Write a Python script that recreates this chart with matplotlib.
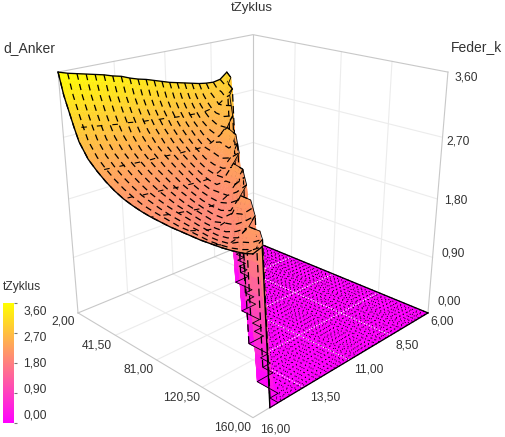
import numpy as np
import matplotlib
matplotlib.use("Agg")
import matplotlib.pyplot as plt
from matplotlib.cm import ScalarMappable
from matplotlib.colors import Normalize
from mpl_toolkits.mplot3d.art3d import Poly3DCollection

feder_k = [6.0, 6.4, 6.8, 7.2, 7.6, 8.0, 8.4, 8.8, 9.2, 9.6, 10.0, 10.4, 10.8,
           11.2, 11.6, 12.0, 12.4, 12.8, 13.2, 13.6, 14.0, 14.4, 14.8, 15.2, 15.6, 16.0]
d_anker = [2, 6, 10, 14, 18, 26, 34, 42, 50, 58, 66, 74, 82, 90, 98, 106, 114, 122,
           130, 138, 146, 154, 160]

# one row per d_anker value, one column per feder_k value
t_zyklus = [
    [0, 0, 0, 0, 3.09, 3.00, 2.98, 2.99, 3.01, 3.04, 3.07, 3.10, 3.13, 3.17, 3.21, 3.25, 3.28, 3.32, 3.37, 3.40, 3.44, 3.47, 3.50, 3.53, 3.56, 3.60],
    [0, 0, 0, 0, 3.02, 2.94, 2.89, 2.86, 2.85, 2.86, 2.88, 2.90, 2.92, 2.95, 2.98, 3.01, 3.04, 3.07, 3.10, 3.13, 3.16, 3.18, 3.21, 3.24, 3.27, 3.30],
    [0, 0, 0, 0, 0, 2.96, 2.86, 2.79, 2.75, 2.74, 2.75, 2.76, 2.78, 2.80, 2.82, 2.84, 2.87, 2.89, 2.91, 2.94, 2.96, 2.98, 3.01, 3.04, 3.07, 3.10],
    [0, 0, 0, 0, 0, 2.90, 2.79, 2.71, 2.67, 2.65, 2.65, 2.66, 2.67, 2.68, 2.70, 2.71, 2.73, 2.74, 2.76, 2.78, 2.79, 2.81, 2.83, 2.85, 2.87, 2.90],
    [0, 0, 0, 0, 0, 0, 2.84, 2.71, 2.62, 2.58, 2.56, 2.56, 2.57, 2.58, 2.59, 2.60, 2.61, 2.62, 2.63, 2.64, 2.65, 2.66, 2.67, 2.69, 2.70, 2.72],
    [0, 0, 0, 0, 0, 0, 0, 2.74, 2.60, 2.50, 2.45, 2.42, 2.42, 2.43, 2.43, 2.44, 2.44, 2.45, 2.46, 2.46, 2.47, 2.48, 2.49, 2.50, 2.51, 2.52],
    [0, 0, 0, 0, 0, 0, 0, 0, 2.65, 2.50, 2.39, 2.33, 2.30, 2.30, 2.31, 2.31, 2.32, 2.33, 2.34, 2.34, 2.35, 2.36, 2.37, 2.38, 2.39, 2.40],
    [0, 0, 0, 0, 0, 0, 0, 0, 0, 0, 2.57, 2.38, 2.26, 2.20, 2.20, 2.21, 2.22, 2.23, 2.23, 2.24, 2.25, 2.26, 2.27, 2.28, 2.29, 2.30],
    [0, 0, 0, 0, 0, 0, 0, 0, 0, 0, 2.50, 2.33, 2.21, 2.15, 2.12, 2.12, 2.13, 2.14, 2.15, 2.16, 2.17, 2.18, 2.19, 2.20, 2.21, 2.22],
    [0, 0, 0, 0, 0, 0, 0, 0, 0, 0, 0, 2.44, 2.26, 2.14, 2.08, 2.05, 2.05, 2.06, 2.07, 2.08, 2.10, 2.11, 2.12, 2.13, 2.15, 2.16],
    [0, 0, 0, 0, 0, 0, 0, 0, 0, 0, 0, 0, 2.38, 2.20, 2.08, 2.02, 2.00, 2.00, 2.01, 2.03, 2.04, 2.06, 2.07, 2.09, 2.10, 2.12],
    [0, 0, 0, 0, 0, 0, 0, 0, 0, 0, 0, 0, 0, 0, 2.34, 2.12, 2.00, 1.96, 1.96, 1.98, 1.99, 2.01, 2.03, 2.05, 2.07, 2.09],
    [0, 0, 0, 0, 0, 0, 0, 0, 0, 0, 0, 0, 0, 0, 2.30, 2.12, 2.00, 1.94, 1.93, 1.94, 1.96, 1.98, 2.00, 2.02, 2.05, 2.07],
    [0, 0, 0, 0, 0, 0, 0, 0, 0, 0, 0, 0, 0, 0, 0, 2.27, 2.10, 1.98, 1.92, 1.91, 1.93, 1.95, 1.98, 2.00, 2.03, 2.06],
    [0, 0, 0, 0, 0, 0, 0, 0, 0, 0, 0, 0, 0, 0, 0, 0, 2.25, 2.08, 1.97, 1.91, 1.90, 1.92, 1.95, 1.98, 2.01, 2.05],
    [0, 0, 0, 0, 0, 0, 0, 0, 0, 0, 0, 0, 0, 0, 0, 0, 0, 0, 2.23, 2.03, 1.94, 1.91, 1.93, 1.97, 2.01, 2.05],
    [0, 0, 0, 0, 0, 0, 0, 0, 0, 0, 0, 0, 0, 0, 0, 0, 0, 0, 2.22, 2.07, 1.97, 1.92, 1.92, 1.95, 2.00, 2.05],
    [0, 0, 0, 0, 0, 0, 0, 0, 0, 0, 0, 0, 0, 0, 0, 0, 0, 0, 0, 2.21, 2.07, 1.98, 1.94, 1.95, 1.99, 2.05],
    [0, 0, 0, 0, 0, 0, 0, 0, 0, 0, 0, 0, 0, 0, 0, 0, 0, 0, 0, 0, 2.20, 2.08, 2.00, 1.97, 2.00, 2.06],
    [0, 0, 0, 0, 0, 0, 0, 0, 0, 0, 0, 0, 0, 0, 0, 0, 0, 0, 0, 0, 0, 0, 2.20, 2.05, 2.02, 2.07],
    [0, 0, 0, 0, 0, 0, 0, 0, 0, 0, 0, 0, 0, 0, 0, 0, 0, 0, 0, 0, 0, 0, 2.20, 2.10, 2.06, 2.09],
    [0, 0, 0, 0, 0, 0, 0, 0, 0, 0, 0, 0, 0, 0, 0, 0, 0, 0, 0, 0, 0, 0, 0, 2.20, 2.12, 2.12],
    [0, 0, 0, 0, 0, 0, 0, 0, 0, 0, 0, 0, 0, 0, 0, 0, 0, 0, 0, 0, 0, 0, 0, 0, 2.20, 2.16],
]

d_ticks = [2, 41.5, 81, 120.5, 160]
k_ticks = [6, 8.5, 11, 13.5, 16]
z_ticks = [0, 0.9, 1.8, 2.7, 3.6]
d_labels = ["2,00", "41,50", "81,00", "120,50", "160,00"]
k_labels = ["6,00", "8,50", "11,00", "13,50", "16,00"]
z_labels = ["0,00", "0,90", "1,80", "2,70", "3,60"]

plt.rcParams["font.family"] = ["Liberation Sans", "DejaVu Sans"]
TEXT = "#333333"
EDGE = "#c8c8c8"
GRID = "#ececec"

W, H = 506, 437
fig = plt.figure(figsize=(W / 100, H / 100), dpi=100, facecolor="white")
ax = fig.add_axes([28.6 / W, 13.6 / H, 437 / W, 437 / H], projection="3d", computed_zorder=False)
ax.set_proj_type("persp", focal_length=0.3709)
ax.view_init(elev=21.5, azim=45)
ax.set_box_aspect((2.978, 2.978, 2.947), zoom=1.0)
ax.set_xlim(6, 16, view_margin=0)
ax.set_ylim(2, 160, view_margin=0)
ax.set_zlim(0, 3.6, view_margin=0)
ax.set_axis_off()

K = np.array(feder_k)
D = np.array(d_anker, dtype=float)
Z = np.array(t_zyklus, dtype=float)
norm = Normalize(0, 3.6)
cmap = plt.get_cmap("spring")


def line(ks, ds, zs, **kw):
    ax.plot(ks, ds, zs, **kw)


# back walls, floor and their grid lines
for k in k_ticks[1:-1]:
    line([k, k], [2, 2], [0, 3.6], color=GRID, lw=0.8, zorder=0)
    line([k, k], [2, 160], [0, 0], color=GRID, lw=0.8, zorder=0)
for d in d_ticks[1:-1]:
    line([6, 6], [d, d], [0, 3.6], color=GRID, lw=0.8, zorder=0)
    line([6, 16], [d, d], [0, 0], color=GRID, lw=0.8, zorder=0)
for z in z_ticks[1:-1]:
    line([16, 6, 6], [2, 2, 160], [z, z, z], color=GRID, lw=0.8, zorder=0)
line([16, 6, 6], [2, 2, 160], [3.6, 3.6, 3.6], color=EDGE, lw=0.8, zorder=0)
line([16, 6, 6, 16, 16], [2, 2, 160, 160, 2], [0, 0, 0, 0, 0], color=EDGE, lw=0.8, zorder=0)
line([16, 16], [2, 2], [0, 3.6], color=EDGE, lw=0.8, zorder=0)
line([6, 6], [2, 2], [0, 3.6], color=EDGE, lw=0.8, zorder=0)
line([6, 6], [160, 160], [0, 3.6], color=EDGE, lw=0.8, zorder=0)


def cell_polys(cells, n):
    # split each grid cell so the colour follows the height inside it
    polys, vals = [], []
    s = np.linspace(0, 1, n + 1)
    for i, j in cells:
        zc = Z[i:i + 2, j:j + 2]
        for a0, a1 in zip(s[:-1], s[1:]):
            for b0, b1 in zip(s[:-1], s[1:]):
                pts = []
                for a, b in [(a0, b0), (a0, b1), (a1, b1), (a1, b0)]:
                    zv = ((1 - a) * (1 - b) * zc[0, 0] + (1 - a) * b * zc[0, 1]
                          + a * (1 - b) * zc[1, 0] + a * b * zc[1, 1])
                    pts.append((K[j] + b * (K[j + 1] - K[j]), D[i] + a * (D[i + 1] - D[i]), zv))
                polys.append(pts)
                vals.append(np.mean([p[2] for p in pts]))
    return polys, vals


def add_cells(cells, n, zorder):
    polys, vals = cell_polys(cells, n)
    cols = cmap(norm(vals))
    ax.add_collection3d(Poly3DCollection(polys, facecolors=cols, edgecolors=cols,
                                         linewidths=0.3, zorder=zorder))


floor_cells, wall_cells, sheet_cells = [], [], []
for i in range(len(D) - 1):
    for j in range(len(K) - 1):
        zc = Z[i:i + 2, j:j + 2]
        if zc.max() == 0:
            floor_cells.append((i, j))
        elif zc.min() == 0:
            wall_cells.append((i, j))
        else:
            sheet_cells.append((i, j))

first_up = (Z > 0).argmax(axis=1)
base_k = K[first_up - 1]

# floor: flat part of the surface with a dotted mesh and the grid showing through
add_cells(floor_cells, 1, 2)
mesh_k = np.sort(np.r_[K[:-1], (K[:-1] + K[1:]) / 2])
mesh_d = np.sort(np.r_[D, (D[:-1] + D[1:]) / 2])
for k in mesh_k:
    if k <= base_k[-1]:
        line([k, k], [np.interp(k, base_k, D), 160], [0, 0], color="black", lw=0.7, ls=(0, (1, 3.4)), zorder=3)
for d in mesh_d:
    line([6, np.interp(d, D, base_k)], [d, d], [0, 0], color="black", lw=0.7, ls=(0, (1, 3.4)), zorder=3)
for d in d_ticks[1:-1]:
    line([6, np.interp(d, D, base_k)], [d, d], [0, 0], color="white", lw=0.8, ls=(0, (1, 1.5)), zorder=3.5)
for k in k_ticks[1:-1]:
    line([k, k], [np.interp(k, base_k, D), 160], [0, 0], color="white", lw=0.8, ls=(0, (1, 1.5)), zorder=3.5)
line([6, 6], [2, 160], [0, 0], color="black", lw=0.9, zorder=3.6)
line([6, base_k[-1]], [160, 160], [0, 0], color="black", lw=0.9, zorder=3.6)

# wall where the surface drops to the floor
add_cells(wall_cells, 10, 4)
for i, d in list(enumerate(D))[::3]:
    j = first_up[i]
    line([K[j - 1], K[j]], [d, d], [0, Z[i, j]], color="black", lw=0.9, ls=(0, (6, 3.5)), zorder=5)
stair_k, stair_d = [], []
for i in range(len(D) - 1):
    stair_k += [base_k[i], base_k[i]]
    stair_d += [D[i], D[i + 1]]
stair_k.append(base_k[-1])
stair_d.append(D[-1])
line(stair_k, stair_d, np.zeros(len(stair_k)), color="black", lw=0.6, zorder=5)
line([base_k[-1], K[first_up[-1]]], [160, 160], [0, Z[-1, first_up[-1]]], color="black", lw=1.0, zorder=5)

# upper sheet with its dashed mesh and solid outline
add_cells(sheet_cells, 3, 6)
for j, k in enumerate(K):
    rows = np.where(Z[:, j] > 0)[0]
    if len(rows) > 1:
        line([k] * len(rows), D[rows], Z[rows, j], color="black", lw=0.9, ls=(0, (5, 3.5)), zorder=7)
for i, d in list(enumerate(D))[3:-1:3]:
    cols_up = np.where(Z[i] > 0)[0]
    line(K[cols_up], [d] * len(cols_up), Z[i, cols_up], color="black", lw=0.8, ls=(0, (5, 9)), zorder=7)
up0 = np.where(Z[0] > 0)[0]
line(K[up0], [2] * len(up0), Z[0, up0], color="black", lw=0.95, zorder=8)
line([16] * len(D), D, Z[:, -1], color="black", lw=0.95, zorder=8)
line(K[first_up], D, Z[np.arange(len(D)), first_up], color="black", lw=0.6, zorder=8)
up_last = np.where(Z[-1] > 0)[0]
line(K[up_last], [160] * len(up_last), Z[-1, up_last], color="black", lw=0.95, zorder=8)


def label(x, y, s, size=8.64):
    fig.text(x / W, 1 - y / H, s, ha="center", va="center", color=TEXT, fontsize=size)


label(252, 8, "tZyklus", 9.5)
label(29, 48, "d_Anker", 10)
label(477, 47, "Feder_k", 10)

for s, p in zip(d_labels, [(63, 322), (97, 346), (139, 370), (182, 398), (233, 428)]):
    label(p[0], p[1], s)
for s, p in zip(k_labels, [(442, 321), (407, 345), (369, 370), (325, 397), (275, 429)]):
    label(p[0], p[1], s)
for s, p in zip(z_labels, [(449, 302), (453, 254), (456, 201), (458, 142), (466, 77)]):
    label(p[0], p[1], s)

# colour bar
cax = fig.add_axes([3 / W, 1 - 423 / H, 11 / W, 120 / H])
cb = fig.colorbar(ScalarMappable(norm=norm, cmap=cmap), cax=cax)
cb.set_ticks(z_ticks, labels=[""] * len(z_ticks))
cb.outline.set_visible(False)
cax.tick_params(length=2, width=0.8, color="#777777")
label(22, 287, "tZyklus", 8.64)
for s, y in zip(z_labels, [416, 390, 363, 337, 311]):
    label(35, y, s)

fig.savefig("out.png", dpi=100, facecolor="white")
